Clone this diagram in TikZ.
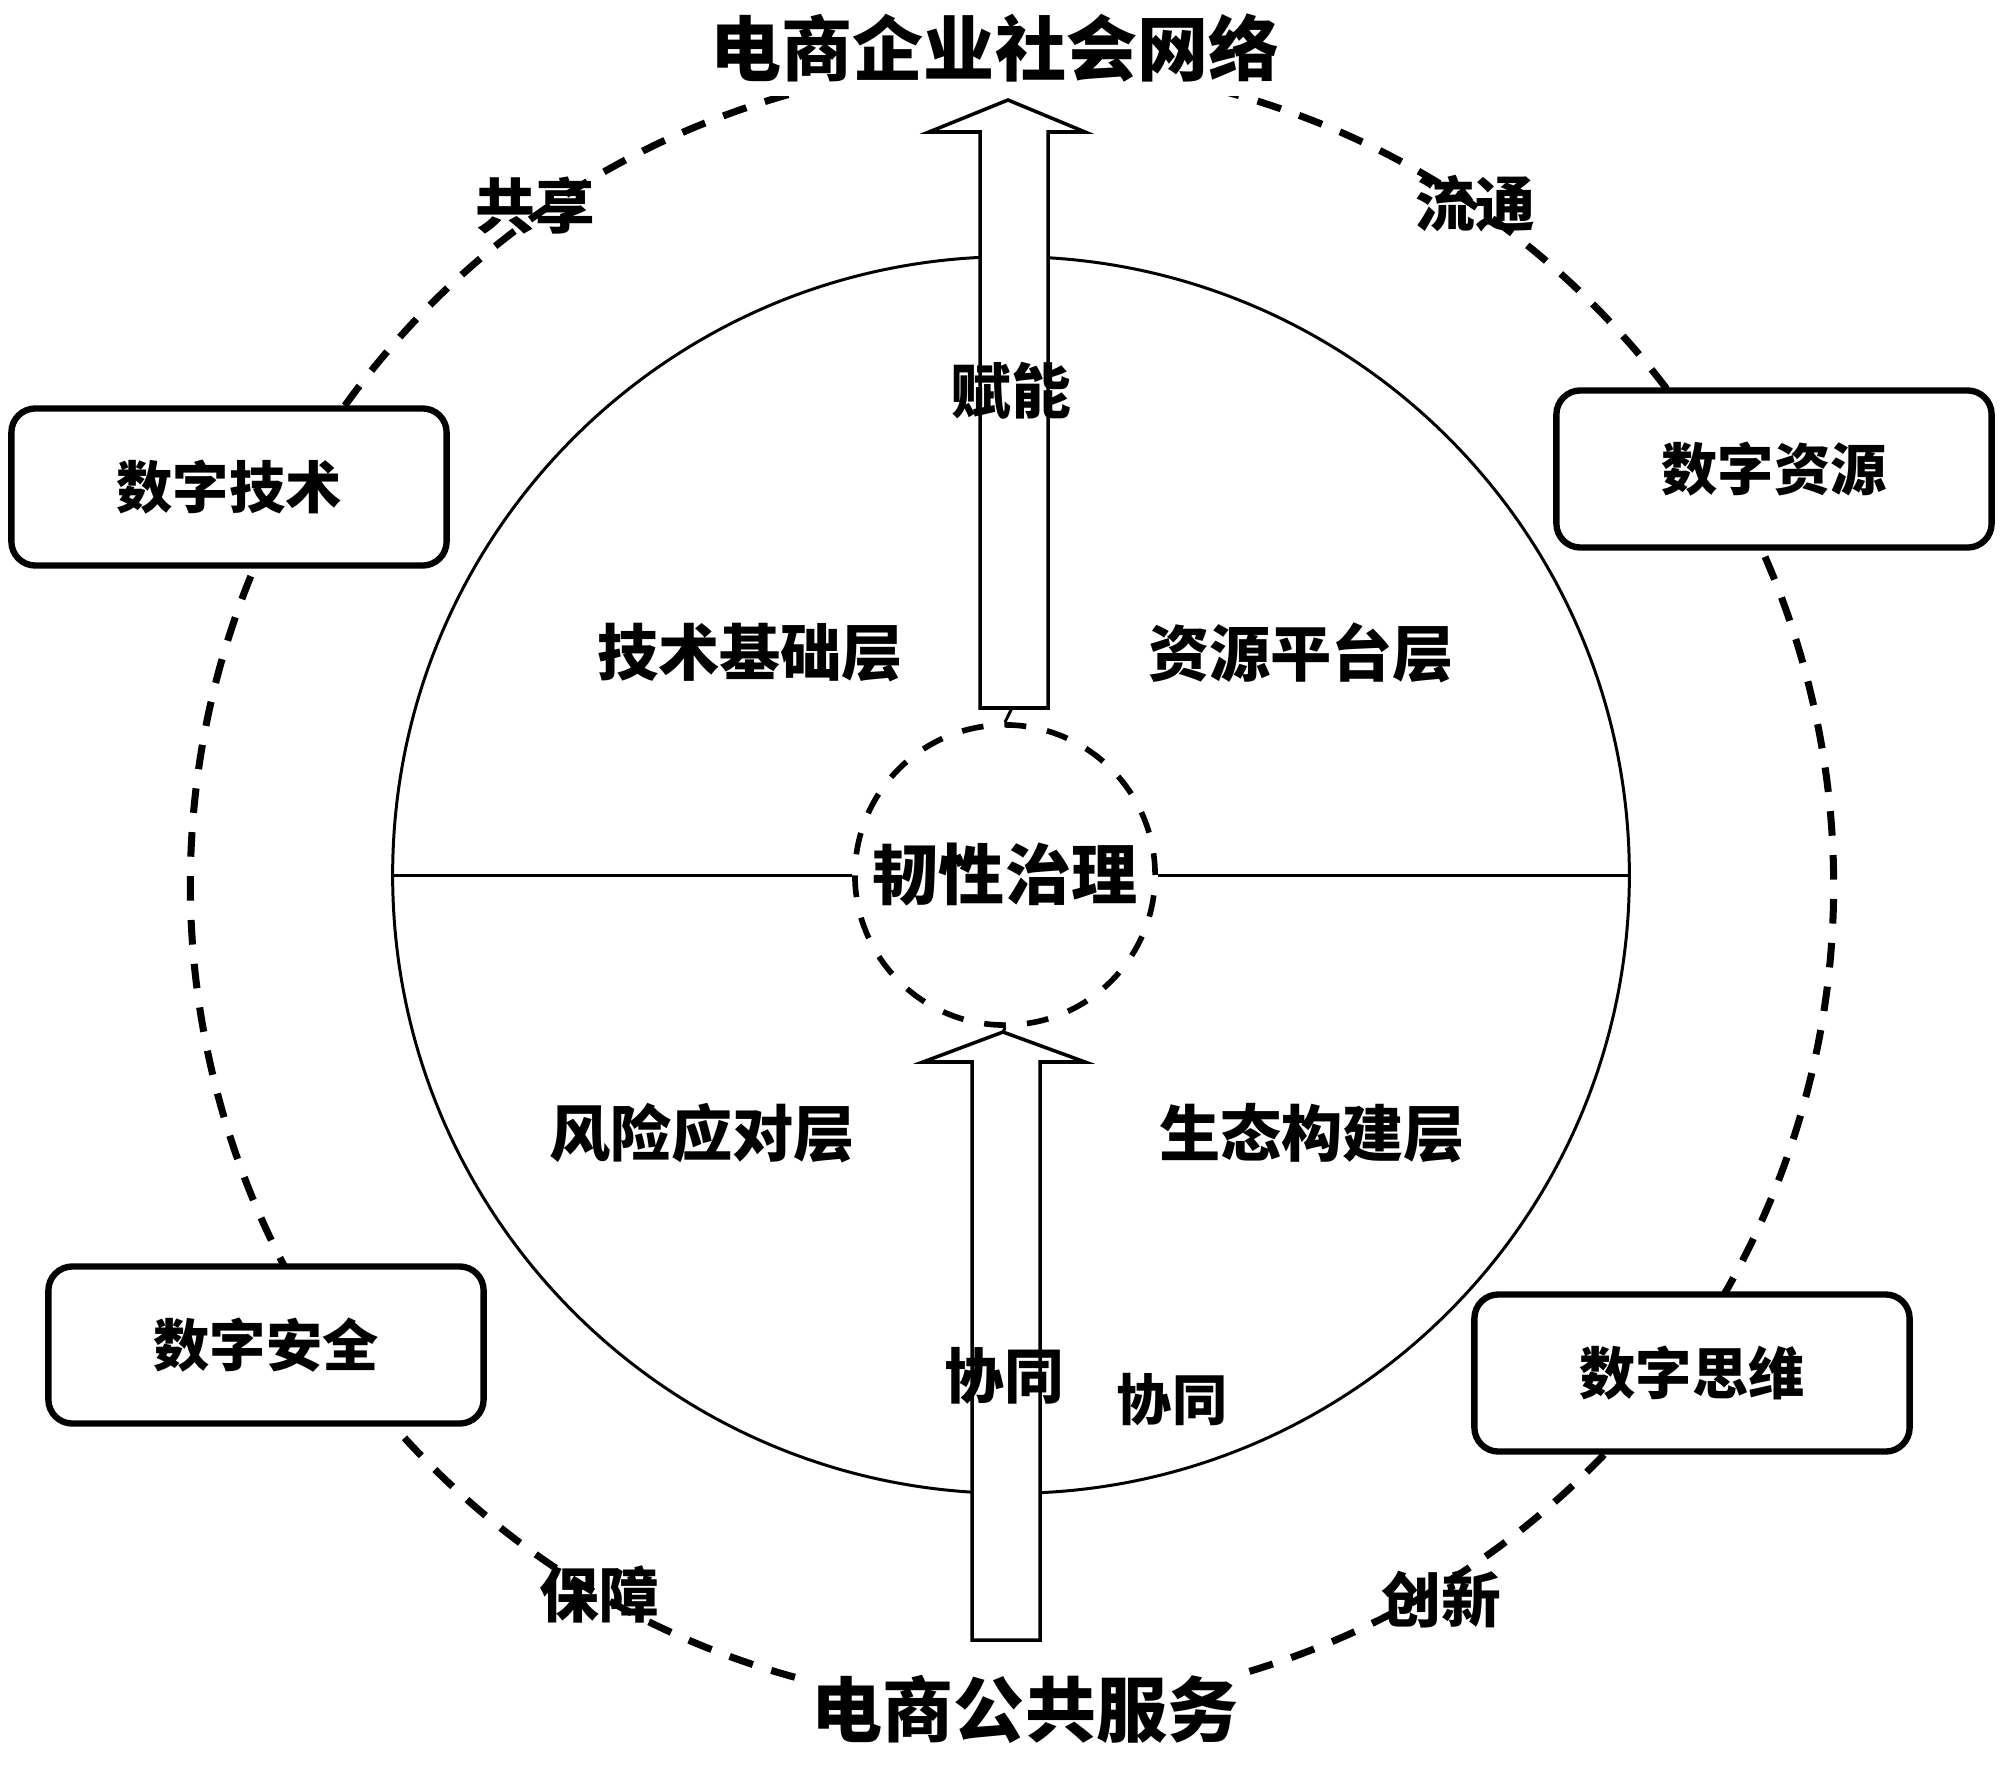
\documentclass[tikz,border=0pt]{standalone}
\usepackage{fontspec}
\setmainfont{Noto Sans CJK SC}

\tikzset{
  outerring/.style={line width=2pt, dash pattern=on 7pt off 5.5pt},
  thinline/.style={line width=0.85pt},
  dimbox/.style={draw, line width=1.8pt, rounded corners=0.24cm, fill=white,
    minimum width=4.35cm, minimum height=1.57cm,
    font=\fontsize{16}{16}\selectfont\bfseries},
  layer/.style={font=\fontsize{17.4}{17.4}\selectfont\bfseries},
  lbl/.style={font=\fontsize{17}{17}\selectfont\bfseries},
  heading/.style={fill=white, inner xsep=2pt, inner ysep=4pt, font=\fontsize{20.2}{20.2}\selectfont\bfseries},
  blockarr/.style={draw, line width=1pt, fill=white},
}

\begin{document}
\begin{tikzpicture}[x=0.01cm, y=-0.01cm]
  \useasboundingbox (0,0) rectangle (2000,1767);
  \fill[white] (0,0) rectangle (2000,1767);

  % outer ring, open under the two headings
  \coordinate (ringc) at (1012,885);
  \draw[outerring] (ringc) ++(105.8:8.21cm) arc[start angle=105.8, end angle=256.5, radius=8.21cm];
  \draw[outerring] (ringc) ++(286.8:8.21cm) arc[start angle=286.8, end angle=436.3, radius=8.21cm];

  % inner circle, hub and dividing line
  \node[draw, circle, thinline, minimum size=12.36cm, inner sep=0pt] (core) at (1011,875) {};
  \node[draw, circle, line width=1.6pt, dash pattern=on 6.2pt off 6pt, minimum size=3cm,
    inner sep=0pt, font=\fontsize{18.8}{18.8}\selectfont\bfseries] (hub) at (1005,875) {韧性治理};
  \draw[thinline] (core.west) -- (hub.west) (hub.east) -- (core.east);

  % layers
  \node[layer] (tech) at (750,653) {技术基础层};
  \node[layer] (res) at (1301,653) {资源平台层};
  \node[layer] (risk) at (702,1133) {风险应对层};
  \node[layer] (eco) at (1312,1133) {生态构建层};

  % block arrows
  \draw[blockarr] (980,708) -- (980,132) -- (929,132) -- (1008,100) -- (1085,132)
    -- (1048,132) -- (1048,708) -- cycle;
  \coordinate (upfoot) at (1012,708);
  \draw[thinline] (upfoot) -- (hub.north);
  \draw[blockarr] (972,1640) -- (972,1062) -- (923,1062) -- (1003,1032) -- (1085,1062)
    -- (1040,1062) -- (1040,1640) -- cycle;
  \coordinate (lowtip) at (1003,1032);
  \draw[thinline] (lowtip) -- (hub.south);

  % digital boxes
  \node[dimbox] (tech box) at (229,487) {数字技术};
  \node[dimbox] (res box) at (1774,469) {数字资源};
  \node[dimbox] (safe box) at (266,1345) {数字安全};
  \node[dimbox] (mind box) at (1692,1373) {数字思维};

  % headings
  \node[heading] (net) at (995,48) {电商企业社会网络};
  \node[heading] (pub) at (1025,1709) {电商公共服务};

  % labels
  \node[lbl] (share) at (535,206) {共享};
  \node[lbl] (flow) at (1475,204) {流通};
  \node[lbl] (guard) at (599,1594) {保障};
  \node[lbl] (innov) at (1441,1600) {创新};
  \node[lbl] (enable) at (1011,391) {赋能};
  \node[lbl] (coop) at (1004,1376) {协同};
  \node[lbl, font=\fontsize{15.7}{15.7}\selectfont\bfseries] (coop two) at (1172,1400) {协同};
\end{tikzpicture}
\end{document}
